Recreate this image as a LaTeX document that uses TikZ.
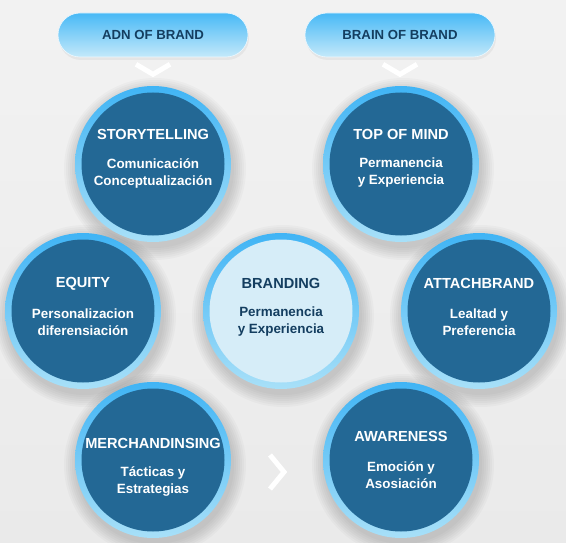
\documentclass[tikz,border=0pt]{standalone}
\usepackage{fontspec}
\setmainfont{Liberation Sans}
\usetikzlibrary{shadows,calc}
\definecolor{discblue}{HTML}{236895}
\definecolor{ringtop}{HTML}{40B4F5}
\definecolor{ringbot}{HTML}{A8E0F8}
\definecolor{pilltop}{HTML}{48B9F6}
\definecolor{pillbot}{HTML}{C4E9FA}
\definecolor{lightdisc}{HTML}{D6EDF8}
\definecolor{navy}{HTML}{143E60}
\definecolor{backgr}{HTML}{EAEAEA}
\tikzset{
  ring/.style={circle, minimum size=156pt, inner sep=0pt, top color=ringtop, bottom color=ringbot},
  disc/.style={circle, minimum size=143pt, inner sep=0pt, fill=discblue},
  lightdisc/.style={disc, fill=lightdisc},
  title/.style={font=\bfseries\fontsize{14.6}{16}\selectfont, text=white},
  sub/.style={font=\bfseries\fontsize{13.4}{17}\selectfont, text=white, align=center},
  pill/.style={rounded corners=22pt, minimum width=190pt, minimum height=44pt, top color=pilltop,
    bottom color=pillbot, draw=white!70!pillbot, line width=0.6pt, text=navy,
    font=\bfseries\fontsize{13.2}{15}\selectfont,
    drop shadow={opacity=0.10, shadow xshift=1pt, shadow yshift=-3pt}},
  chev/.style={draw=white, line width=5pt, line join=miter}
}
\begin{document}
\begin{tikzpicture}[x=1pt, y=-1pt]
  \useasboundingbox (0,0) rectangle (566,543);
  \shade[top color=black!5, bottom color=backgr] (0,0) rectangle (566,543);
  % headers
  \node[pill] (adn) at (153,35) {ADN OF BRAND};
  \node[pill] (brain) at (400,35) {BRAIN OF BRAND};
  \draw[chev] ($(adn.south)+(-17pt,-7pt)$) -- ($(adn.south)+(0,-17pt)$) -- ($(adn.south)+(17pt,-7pt)$);
  \draw[chev] ($(brain.south)+(-17pt,-7pt)$) -- ($(brain.south)+(0,-17pt)$) -- ($(brain.south)+(17pt,-7pt)$);
  % soft shadows
  \foreach \x/\y in {153/164, 401/164, 83/311, 281/311, 479/311, 153/460, 401/460}{
    \foreach \r in {79,81,...,91}
      \fill[black, opacity=0.025] (\x+2,\y+5) circle (\r pt);
  }
  % circles
  \foreach \name/\x/\y/\dt/\ds/\head/\body in {
      story/153/164/30/-9/STORYTELLING/{Comunicación\\Conceptualización},
      top/401/164/30/-9/TOP OF MIND/{Permanencia\\y Experiencia},
      equity/83/311/27.5/-11/EQUITY/{Personalizacion\\diferensiación},
      attach/479/311/27.5/-11/ATTACHBRAND/{Lealtad y\\Preferencia},
      merch/153/460/17/-21.5/MERCHANDINSING/{Tácticas y\\Estrategias},
      aware/401/460/24/-15.5/AWARENESS/{Emoción y\\Asosiación}}{
    \node[ring] (\name) at (\x,\y) {};
    \node[disc] (\name-in) at (\name) {};
    \node[title] (\name-t) at ([yshift=\dt pt]\name-in.center) {\head};
    \node[sub] (\name-b) at ([yshift=\ds pt]\name-in.center) {\body};
  }
  % center
  \node[ring] (brand) at (281,311) {};
  \node[lightdisc] (brand-in) at (brand) {};
  \node[title, text=navy] (brand-t) at ([yshift=27.5pt]brand-in.center) {BRANDING};
  \node[sub, text=navy] (brand-b) at ([yshift=-11pt]brand-in.center) {Permanencia\\y Experiencia};
  % arrow between bottom circles
  \draw[chev] ($(merch.east)!0.5!(aware.west)+(-7pt,5pt)$) -- ($(merch.east)!0.5!(aware.west)+(7pt,-12pt)$)
    -- ($(merch.east)!0.5!(aware.west)+(-7pt,-29pt)$);
\end{tikzpicture}
\end{document}
